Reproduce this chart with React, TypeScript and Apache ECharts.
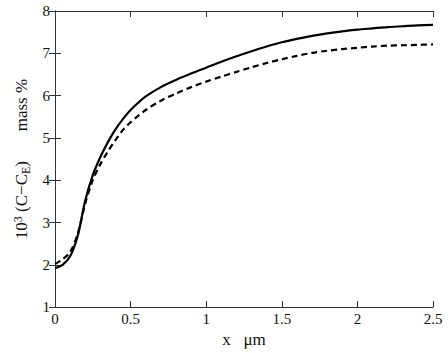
import React, { useEffect, useRef } from "react";
import * as echarts from "echarts";

const xValues = [0, 0.05, 0.1, 0.15, 0.2, 0.25, 0.3, 0.35, 0.4, 0.45, 0.5, 0.55, 0.6, 0.7, 0.8, 0.9, 1.0, 1.1, 1.2, 1.3, 1.4, 1.5, 1.6, 1.7, 1.8, 1.9, 2.0, 2.1, 2.2, 2.3, 2.4, 2.5];
const solidValues = [1.92, 2.0, 2.2, 2.68, 3.52, 4.12, 4.55, 4.9, 5.2, 5.45, 5.66, 5.83, 5.98, 6.2, 6.37, 6.52, 6.66, 6.8, 6.93, 7.05, 7.16, 7.26, 7.34, 7.41, 7.47, 7.52, 7.56, 7.59, 7.62, 7.64, 7.66, 7.67];
const dashedValues = [2.02, 2.13, 2.3, 2.73, 3.45, 4.0, 4.38, 4.68, 4.95, 5.19, 5.37, 5.52, 5.66, 5.88, 6.05, 6.2, 6.33, 6.45, 6.56, 6.67, 6.77, 6.86, 6.94, 7.01, 7.06, 7.1, 7.13, 7.16, 7.18, 7.19, 7.2, 7.21];
const xTicks = [0, 0.5, 1, 1.5, 2, 2.5];
const yTicks = [1, 2, 3, 4, 5, 6, 7, 8];

const FONT = "Liberation Serif";

export default function App() {
  const ref = useRef<HTMLDivElement>(null);
  useEffect(() => {
    if (!ref.current) return;
    const chart = echarts.init(ref.current, null, { renderer: "svg" });
    const axisLine = { show: true, lineStyle: { color: "#333", width: 1 } };
    const axisTick = { show: true, inside: true, length: 6, lineStyle: { color: "#333", width: 1 } };
    chart.setOption({
      animation: false,
      backgroundColor: "#fff",
      textStyle: { fontFamily: FONT },
      grid: { left: 55, right: 15, top: 11, bottom: 41 },
      xAxis: [
        {
          type: "value",
          min: 0,
          max: 2.5,
          interval: 0.5,
          position: "bottom",
          axisLine,
          axisTick,
          splitLine: { show: false },
          axisLabel: {
            color: "#111",
            fontFamily: FONT,
            fontSize: 15,
            margin: 4,
            formatter: (v: number) => (xTicks.includes(v) ? String(v) : ""),
          },
          name: "x   μm",
          nameLocation: "middle",
          nameGap: 17,
          nameTextStyle: { color: "#111", fontFamily: FONT, fontSize: 17 },
        },
        {
          type: "value",
          min: 0,
          max: 2.5,
          interval: 0.5,
          position: "top",
          axisLine,
          axisTick,
          splitLine: { show: false },
          axisLabel: { show: false },
        },
      ],
      yAxis: [
        {
          type: "value",
          min: 1,
          max: 8,
          interval: 1,
          position: "left",
          axisLine,
          axisTick,
          splitLine: { show: false },
          axisLabel: {
            color: "#111",
            fontFamily: FONT,
            fontSize: 15,
            margin: 5,
            formatter: (v: number) => (yTicks.includes(v) ? String(v) : ""),
          },
          name: "{n|10}{sup|3}{n| (C−C}{sub|E}{n|)       mass %}",
          nameLocation: "middle",
          nameRotate: 90,
          nameGap: 16,
          nameTextStyle: {
            color: "#111",
            fontFamily: FONT,
            fontSize: 17,
            rich: {
              n: { fontFamily: FONT, fontSize: 17, color: "#111", lineHeight: 20 },
              sup: { fontFamily: FONT, fontSize: 12, color: "#111", verticalAlign: "top", lineHeight: 20 },
              sub: { fontFamily: FONT, fontSize: 12, color: "#111", verticalAlign: "bottom", lineHeight: 14 },
            },
          },
        },
        {
          type: "value",
          min: 1,
          max: 8,
          interval: 1,
          position: "right",
          axisLine,
          axisTick,
          splitLine: { show: false },
          axisLabel: { show: false },
        },
      ],
      series: [
        {
          type: "line",
          data: xValues.map((x, i) => [x, solidValues[i]]),
          smooth: 0.3,
          symbol: "none",
          lineStyle: { color: "#000", width: 2.2, type: "solid" },
          xAxisIndex: 0,
          yAxisIndex: 0,
        },
        {
          type: "line",
          data: xValues.map((x, i) => [x, dashedValues[i]]),
          smooth: 0.3,
          symbol: "none",
          lineStyle: { color: "#000", width: 2.2, type: [6, 4] },
          xAxisIndex: 0,
          yAxisIndex: 0,
        },
      ],
    });
    return () => chart.dispose();
  }, []);
  return (
    <div
      ref={ref}
      style={{ position: "fixed", left: 0, top: 0, width: 448, height: 353 }}
    />
  );
}
